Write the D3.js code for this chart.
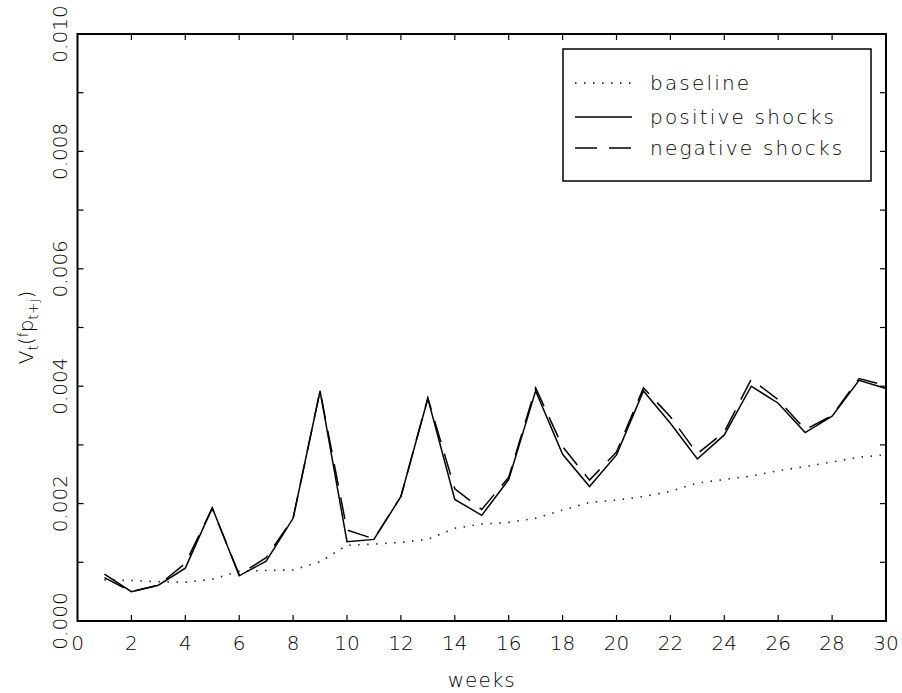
<!DOCTYPE html>
<html>
<head>
<meta charset="utf-8">
<script src="https://cdn.jsdelivr.net/npm/d3@7"></script>
<style>
  body { margin: 0; background: #fff; }
  svg { font-family: "DejaVu Sans", sans-serif; font-weight: 200; }
</style>
</head>
<body>
<svg id="chart"></svg>
<script>
const weeks = d3.range(1, 31);
const baseline = [0.00070, 0.00069, 0.00067, 0.00066, 0.00071, 0.00085, 0.00086, 0.00087, 0.00101, 0.00129,
  0.00131, 0.00134, 0.00139, 0.00158, 0.00165, 0.00168, 0.00175, 0.00189, 0.00202, 0.00206,
  0.00212, 0.00221, 0.00235, 0.00241, 0.00247, 0.00256, 0.00263, 0.00271, 0.00279, 0.00283];
const positiveShocks = [0.00080, 0.00050, 0.00061, 0.00090, 0.00193, 0.00077, 0.00102, 0.00175, 0.00392, 0.00135,
  0.00139, 0.00212, 0.00379, 0.00207, 0.00180, 0.00241, 0.00392, 0.00284, 0.00229, 0.00283,
  0.00392, 0.00337, 0.00276, 0.00317, 0.00400, 0.00371, 0.00321, 0.00349, 0.00410, 0.00396];
const negativeShocks = [0.00074, 0.00050, 0.00061, 0.00098, 0.00192, 0.00079, 0.00108, 0.00175, 0.00392, 0.00155,
  0.00140, 0.00212, 0.00380, 0.00225, 0.00190, 0.00245, 0.00397, 0.00297, 0.00240, 0.00288,
  0.00397, 0.00348, 0.00285, 0.00322, 0.00412, 0.00377, 0.00326, 0.00350, 0.00413, 0.00401];
const xTicks = d3.range(0, 31, 2);
const yTicks = [0, 0.002, 0.004, 0.006, 0.008, 0.010];
const yMinorTicks = d3.range(0, 0.0105, 0.001);
const seriesNames = ["baseline", "positive shocks", "negative shocks"];

const W = 902, H = 693;
const margin = { top: 34, right: 16, bottom: 72, left: 77.5 };
const width = W - margin.left - margin.right,
  height = H - margin.top - margin.bottom;

const svg = d3.select("#chart").attr("width", W).attr("height", H);
const g = svg.append("g").attr("transform", `translate(${margin.left},${margin.top})`);

const x = d3.scaleLinear().domain([0, 30]).range([0, width]);
const y = d3.scaleLinear().domain([0, 0.010]).range([height, 0]);

const tickLen = 6;

// frame
g.append("rect")
  .attr("width", width).attr("height", height)
  .attr("fill", "none").attr("stroke", "#000").attr("stroke-width", 2);

// ticks pointing inward on all four sides
g.selectAll(".xb").data(xTicks.slice(1, -1)).enter().append("line")
  .attr("x1", d => x(d)).attr("x2", d => x(d))
  .attr("y1", height).attr("y2", height - tickLen)
  .attr("stroke", "#000").attr("stroke-width", 1.2);
g.selectAll(".xt").data(xTicks.slice(1, -1)).enter().append("line")
  .attr("x1", d => x(d)).attr("x2", d => x(d))
  .attr("y1", 0).attr("y2", tickLen)
  .attr("stroke", "#000").attr("stroke-width", 1.2);
g.selectAll(".yl").data(yMinorTicks.slice(1, -1)).enter().append("line")
  .attr("x1", 0).attr("x2", tickLen)
  .attr("y1", d => y(d)).attr("y2", d => y(d))
  .attr("stroke", "#000").attr("stroke-width", 1.2);
g.selectAll(".yr").data(yMinorTicks.slice(1, -1)).enter().append("line")
  .attr("x1", width).attr("x2", width - tickLen)
  .attr("y1", d => y(d)).attr("y2", d => y(d))
  .attr("stroke", "#000").attr("stroke-width", 1.2);

// tick labels
g.selectAll(".xl").data(xTicks).enter().append("text")
  .attr("x", d => x(d)).attr("y", height + 29)
  .attr("text-anchor", "middle").attr("font-size", 20)
  .text(d => d);
g.selectAll(".ylab").data(yTicks).enter().append("text")
  .attr("transform", d => `translate(${-11},${y(d)}) rotate(-90)`)
  .attr("text-anchor", "middle").attr("font-size", 20)
  .text(d => d3.format(".3f")(d));

// axis titles
svg.append("text")
  .attr("x", margin.left + width / 2).attr("y", 687)
  .attr("text-anchor", "middle").attr("font-size", 20).attr("letter-spacing", 1)
  .text("weeks");

const yTitle = svg.append("text")
  .attr("transform", `translate(33,${margin.top + height / 2}) rotate(-90)`)
  .attr("text-anchor", "middle").attr("font-size", 20);
yTitle.append("tspan").text("V");
yTitle.append("tspan").attr("font-size", 14).attr("dy", 5).text("t");
yTitle.append("tspan").attr("dy", -5).text("(");
yTitle.append("tspan").attr("font-size", 14).attr("dy", -5).text("f");
yTitle.append("tspan").attr("dy", 5).text("p");
yTitle.append("tspan").attr("font-size", 14).attr("dy", 5).text("t+j");
yTitle.append("tspan").attr("dy", -5).text(")");

// lines
const line = vals => d3.line().x((d, i) => x(weeks[i])).y(d => y(d))(vals);

g.append("path").attr("d", line(baseline))
  .attr("fill", "none").attr("stroke", "#222").attr("stroke-width", 1.6)
  .attr("stroke-dasharray", "1.5,7.5");
g.append("path").attr("d", line(negativeShocks))
  .attr("fill", "none").attr("stroke", "#000").attr("stroke-width", 1.5)
  .attr("stroke-dasharray", "22,12");
g.append("path").attr("d", line(positiveShocks))
  .attr("fill", "none").attr("stroke", "#000").attr("stroke-width", 1.5);

// legend
const legend = svg.append("g").attr("transform", "translate(563,49)");
legend.append("rect").attr("width", 308).attr("height", 132)
  .attr("fill", "#fff").attr("stroke", "#000").attr("stroke-width", 1.5);
const dashes = ["1.5,7.5", null, "22,12"];
const rowY = [34, 68, 99];
seriesNames.forEach((name, i) => {
  legend.append("line")
    .attr("x1", 12).attr("x2", 69).attr("y1", rowY[i]).attr("y2", rowY[i])
    .attr("stroke", "#000").attr("stroke-width", i === 0 ? 1.6 : 1.5)
    .attr("stroke-dasharray", dashes[i]);
  legend.append("text")
    .attr("x", 87).attr("y", rowY[i] + 7)
    .attr("font-size", 20).attr("letter-spacing", 2.2)
    .text(name);
});
</script>
</body>
</html>
